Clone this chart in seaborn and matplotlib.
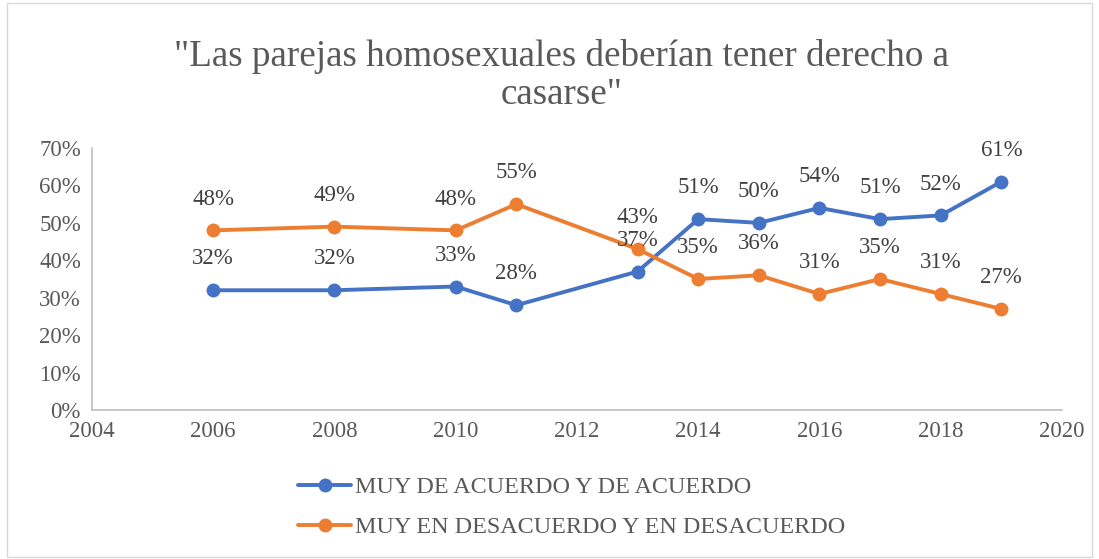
import pandas as pd
import matplotlib.pyplot as plt
import seaborn as sns
from matplotlib.patches import Rectangle

# datos
years = [2006, 2008, 2010, 2011, 2013, 2014, 2015, 2016, 2017, 2018, 2019]
acuerdo = [32, 32, 33, 28, 37, 51, 50, 54, 51, 52, 61]
desacuerdo = [48, 49, 48, 55, 43, 35, 36, 31, 35, 31, 27]
series_names = ['MUY DE ACUERDO Y DE ACUERDO', 'MUY EN DESACUERDO Y EN DESACUERDO']
colors = ['#4472C4', '#ED7D31']

df = pd.DataFrame({'Año': years * 2,
                   'Valor': [v / 100 for v in acuerdo + desacuerdo],
                   'Serie': [series_names[0]] * len(years) + [series_names[1]] * len(years)})

sns.set_style('white')
plt.rcParams['font.family'] = ['Liberation Serif', 'DejaVu Serif']
txt = '#595959'

fig = plt.figure(figsize=(10.99, 5.59), dpi=100)
ax = fig.add_axes([0.0837, 0.2665, 0.8826, 0.4687])

sns.lineplot(data=df, x='Año', y='Valor', hue='Serie', palette=colors,
             marker='o', markersize=10, markeredgewidth=0, linewidth=2.8,
             ax=ax, legend=True)

# etiquetas de datos encima de cada punto
for vals in [acuerdo, desacuerdo]:
    for x, v in zip(years, vals):
        ax.annotate(f'{v}%', (x, v / 100), xytext=(0, 15), textcoords='offset points',
                    ha='center', va='bottom', fontsize=16.5, color='#404040')

ax.set_xlim(2004, 2020)
ax.set_ylim(0, 0.7)
ax.set_xticks(range(2004, 2021, 2))
ax.set_yticks([i / 10 for i in range(8)])
ax.set_yticklabels([f'{i * 10}%' for i in range(8)])
ax.tick_params(axis='both', labelsize=16.5, colors=txt, length=0, pad=8)
ax.set_xlabel('')
ax.set_ylabel('')
for s in ['top', 'right']:
    ax.spines[s].set_visible(False)
for s in ['left', 'bottom']:
    ax.spines[s].set_color('#BFBFBF')
    ax.spines[s].set_linewidth(1.2)

fig.text(0.511, 0.865, '"Las parejas homosexuales deberían tener derecho a\ncasarse"',
         ha='center', va='center', fontsize=26.7, color=txt, linespacing=1.15)

handles, labels = ax.get_legend_handles_labels()
ax.legend(handles, labels, loc='upper left', bbox_to_anchor=(0.19, -0.17),
          ncol=1, frameon=False, fontsize=17.4, labelcolor=txt,
          handlelength=2.2, handletextpad=0.15, labelspacing=0.75)

fig.patches.append(Rectangle((0.006, 0.004), 0.988, 0.99, transform=fig.transFigure,
                             fill=False, edgecolor='#D9D9D9', linewidth=1))

fig.savefig('out.png', dpi=100)
